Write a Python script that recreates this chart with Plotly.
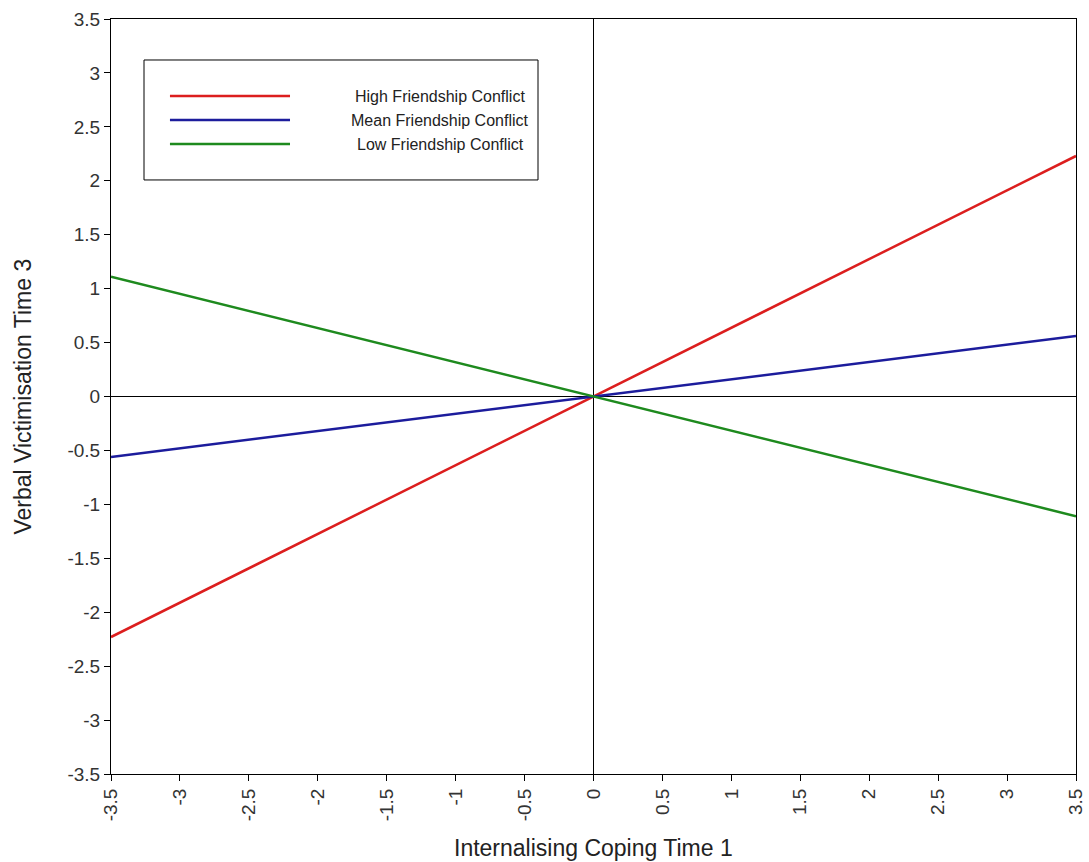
import plotly.graph_objects as go

x_vals = [-3.5, 3.5]
high_conflict = [-2.23, 2.23]
mean_conflict = [-0.56, 0.56]
low_conflict = [1.11, -1.11]
series_names = ["High Friendship Conflict", "Mean Friendship Conflict", "Low Friendship Conflict"]
series_colors = ["#dc1e1e", "#1c1c9c", "#1e8a1e"]
tick_vals = [-3.5, -3, -2.5, -2, -1.5, -1, -0.5, 0, 0.5, 1, 1.5, 2, 2.5, 3, 3.5]
tick_text = ["-3.5", "-3", "-2.5", "-2", "-1.5", "-1", "-0.5", "0", "0.5", "1", "1.5", "2", "2.5", "3", "3.5"]

fig = go.Figure()
for name, ys, col in zip(series_names, [high_conflict, mean_conflict, low_conflict], series_colors):
    fig.add_trace(go.Scatter(x=x_vals, y=ys, mode="lines", name=name,
                             line=dict(color=col, width=2.5), showlegend=False, cliponaxis=False))

font_family = "Liberation Sans, Arial, sans-serif"
axis_common = dict(showgrid=False, zeroline=True, zerolinecolor="black", zerolinewidth=1,
                   showline=True, linecolor="black", linewidth=1, mirror=True,
                   ticks="outside", ticklen=6, tickcolor="black", tickwidth=1,
                   tickmode="array", tickvals=tick_vals, ticktext=tick_text, automargin=False,
                   range=[-3.5, 3.5], tickfont=dict(size=19, color="#333", family=font_family))

fig.update_layout(
    width=1089, height=862,
    margin=dict(l=111, r=13, t=19, b=88),
    paper_bgcolor="white", plot_bgcolor="white",
    font=dict(family=font_family),
    xaxis=dict(**axis_common, tickangle=-90),
    yaxis=dict(**axis_common),
)

# Legend box drawn manually
fig.add_shape(type="rect", xref="paper", yref="paper", x0=0.0342, x1=0.4425, y0=0.7868, y1=0.9457,
              line=dict(color="black", width=1), fillcolor="white", layer="above")
leg_y = [0.898, 0.8662, 0.8344]
for name, col, yy in zip(series_names, series_colors, leg_y):
    fig.add_shape(type="line", xref="paper", yref="paper", x0=0.0611, x1=0.1855, y0=yy, y1=yy,
                  line=dict(color=col, width=2.5), layer="above")
    fig.add_annotation(xref="paper", yref="paper", x=0.341, y=yy, text=name, showarrow=False,
                       xanchor="center", yanchor="middle", font=dict(size=16, color="#222"))

fig.add_annotation(xref="paper", yref="paper", x=0.5, y=-0.098, text="Internalising Coping Time 1",
                   showarrow=False, xanchor="center", yanchor="middle", font=dict(size=23, color="#222"))
fig.add_annotation(xref="paper", yref="paper", x=-0.0922, y=0.5, text="Verbal Victimisation Time 3",
                   showarrow=False, xanchor="center", yanchor="middle", textangle=-90,
                   font=dict(size=23, color="#222"))

fig.write_html("out.html")
